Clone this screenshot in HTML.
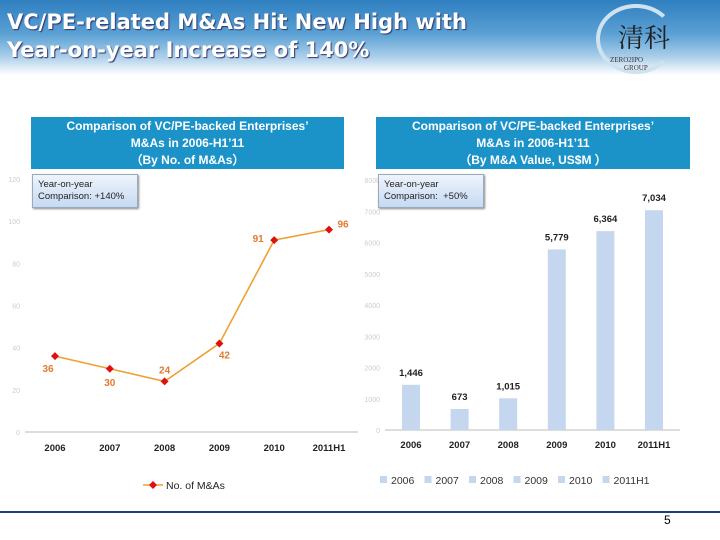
<!DOCTYPE html>
<html><head><meta charset="utf-8"><style>
body{margin:0;width:720px;height:540px;overflow:hidden;background:#fff;font-family:"Liberation Sans",sans-serif;position:relative}
.hdr{position:absolute;left:0;top:0;width:720px;height:75px;background:linear-gradient(#2f7fc0 0%,#5aa0d4 45%,#a9cde9 75%,#ffffff 100%)}
.title{position:absolute;left:7px;top:8px;color:#fff;font-weight:bold;font-size:21px;line-height:28px;font-family:"DejaVu Sans","Liberation Sans",sans-serif;text-shadow:1px 1px 1px #336}
.box{position:absolute;top:117px;height:52px;background:#1b93c9;color:#fff;font-size:12px;font-weight:bold;line-height:17px;text-align:center;padding-top:1px;box-sizing:border-box}
.note{position:absolute;top:174px;width:106px;height:34px;background:linear-gradient(#eef4fc,#c6daf3);border:1px solid #9ab;box-shadow:1px 1px 2px #888;font-size:9.5px;line-height:12px;padding:4px 0 0 5px;box-sizing:border-box;color:#222}
</style></head><body>
<div class="hdr"></div>
<div class="title">VC/PE-related M&amp;As Hit New High with<br>Year-on-year Increase of 140%</div>
<div style="position:absolute;left:596px;top:4px;width:80px;height:70px;border:4px solid #cfe2f0;border-radius:50%;border-right-color:transparent;box-sizing:border-box"></div>
<div style="position:absolute;left:618px;top:18px;font-family:'Noto Serif CJK SC',serif;font-size:26px;color:#222">清科</div>
<div style="position:absolute;left:610px;top:56px;font-size:7px;color:#333;font-family:'Liberation Serif',serif">ZERO2IPO<br>&nbsp;&nbsp;&nbsp;&nbsp;&nbsp;&nbsp;&nbsp;&nbsp;GROUP</div>
<div class="box" style="left:31px;width:313px">Comparison of VC/PE-backed Enterprises’<br>M&amp;As in 2006-H1’11<br>（By No. of M&amp;As）</div>
<div class="box" style="left:376px;width:314px">Comparison of VC/PE-backed Enterprises’<br>M&amp;As in 2006-H1’11<br>（By M&amp;A Value, US$M ）</div>
<svg width="720" height="540" style="position:absolute;left:0;top:0" id="s" font-family="Liberation Sans, sans-serif"></svg>
<div class="note" style="left:32px">Year-on-year<br>Comparison: +140%</div>
<div class="note" style="left:378px">Year-on-year<br>Comparison:&nbsp; +50%</div>
<div style="position:absolute;left:0;top:511px;width:720px;height:2px;background:#1f3e78"></div>
<div style="position:absolute;left:664px;top:513px;font-size:12px">5</div>
<script>
const cats=["2006","2007","2008","2009","2010","2011H1"];
const leftCats=["2006","2007","2008","2009","2010","2011H1"];
const counts=[36,30,24,42,91,96];
const values=[1446,673,1015,5779,6364,7034];
const valueLabels=["1,446","673","1,015","5,779","6,364","7,034"];
const leftTicks=[0,20,40,60,80,100,120];
const rightTicks=[0,1000,2000,3000,4000,5000,6000,7000,8000];
const s=document.getElementById('s');
const NS="http://www.w3.org/2000/svg";
function mk(t,a,txt){const e=document.createElementNS(NS,t);for(const k in a)e.setAttribute(k,a[k]);if(txt!=null)e.textContent=txt;s.appendChild(e);return e;}
// left chart
const lY=v=>432-v*(253/120);
const lX=i=>55+i*54.8;
leftTicks.forEach(t=>{const e=mk('text',{x:20,y:lY(t)+3,'font-size':7,fill:'#ccc','text-anchor':'end'},t);

});
let ax=mk('line',{x1:25,x2:358,y1:432,y2:432,stroke:'#bbb'});


leftCats.forEach((c,i)=>{const e=mk('text',{x:lX(i),y:451,'font-size':9.5,'font-weight':'bold','text-anchor':'middle',fill:'#222'},c);

});
const pl=mk('polyline',{points:counts.map((v,i)=>lX(i)+','+lY(v)).join(' '),fill:'none',stroke:'#f0a030','stroke-width':1.6});


const off=[[-7,16],[0,17],[0,-8],[5,15],[-16,2],[14,-2]];
counts.forEach((v,i)=>{const x=lX(i),y=lY(v);
const p=mk('path',{d:`M${x} ${y-4}L${x+4} ${y}L${x} ${y+4}L${x-4} ${y}Z`,fill:'#e01010'});


const t=mk('text',{x:x+off[i][0],y:y+off[i][1],'font-size':10,'font-weight':'bold',fill:'#e07a30','text-anchor':'middle'},v);

});
const lg=mk('line',{x1:143,x2:163,y1:485,y2:485,stroke:'#f0a030','stroke-width':1.6});


mk('path',{d:'M153 481L157 485L153 489L149 485Z',fill:'#e01010'});
const lt=mk('text',{x:166,y:489,'font-size':10.5,fill:'#222'},'No. of M&As');


// right chart
const rY=v=>430-v*(250/8000);
const rX=i=>411+i*48.6;
rightTicks.forEach(t=>{const e=mk('text',{x:380,y:rY(t)+3,'font-size':7,fill:'#ccc','text-anchor':'end'},t);

});
ax=mk('line',{x1:385,x2:680,y1:430,y2:430,stroke:'#bbb'});


values.forEach((v,i)=>{const x=rX(i);
const b=mk('rect',{x:x-9,y:rY(v),width:18,height:430-rY(v),fill:'#c5d7ee'});


const t=mk('text',{x:x,y:rY(v)-9,'font-size':9.5,'font-weight':'bold','text-anchor':'middle',fill:'#222'},valueLabels[i]);


const c=mk('text',{x:x,y:448,'font-size':9.5,'font-weight':'bold','text-anchor':'middle',fill:'#222'},cats[i]);


const lx=380+i*44.5;
const sq=mk('rect',{x:lx,y:476,width:7,height:7,fill:'#c5d7ee'});


const ltx=mk('text',{x:lx+11,y:484,'font-size':10.5,fill:'#333'},cats[i]);

});
</script>
</body></html>
